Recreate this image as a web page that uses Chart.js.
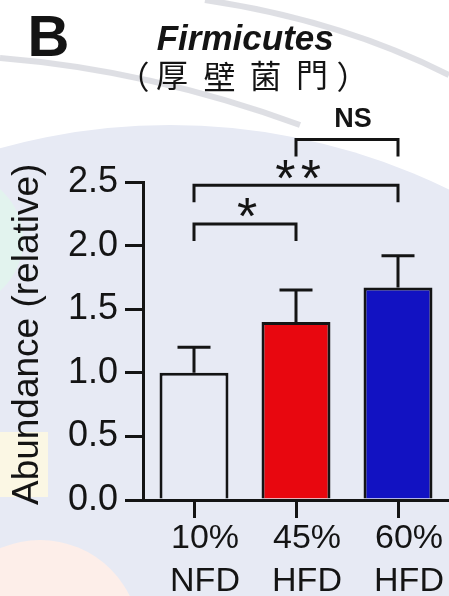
<!DOCTYPE html>
<html>
<head>
<meta charset="utf-8">
<script src="https://cdn.jsdelivr.net/npm/chart.js@4.4.1/dist/chart.umd.min.js"></script>
<style>
  html, body { margin: 0; padding: 0; background: #ffffff; }
  canvas { display: block; }
</style>
</head>
<body>
<canvas id="chart" width="449" height="596"></canvas>
<script>
// Diet groups and relative Firmicutes abundance (mean + SEM)
const groups = [['10%', 'NFD'], ['45%', 'HFD'], ['60%', 'HFD']];
const abundance = [1.00, 1.40, 1.67];
const sem = [0.20, 0.25, 0.25];
const barColors = ['#e7eaf4', '#e8070f', '#1212c2'];

// Pairwise comparisons: group indices, bracket level (axis units), significance mark
const comparisonPairs = [[0, 1], [0, 2], [1, 2]];
const comparisonLevels = [2.17, 2.475, 2.835];
const comparisonLabels = ['*', '**', 'NS'];

const panelLetter = 'B';
const titleLatin = 'Firmicutes';
const titleChinese = ['（', '厚', '壁', '菌', '門', '）'];
const yAxisTitle = 'Abundance (relative)';

const SANS = '"Liberation Sans", Arial, sans-serif';
const INK = '#141414';

// Draw text so that its glyph box is centred on (cx, cy)
function drawCentered(ctx, text, cx, cy, font) {
  ctx.font = font;
  ctx.textAlign = 'left';
  ctx.textBaseline = 'alphabetic';
  const m = ctx.measureText(text);
  const x = cx - (m.actualBoundingBoxRight - m.actualBoundingBoxLeft) / 2;
  const y = cy + (m.actualBoundingBoxAscent - m.actualBoundingBoxDescent) / 2;
  ctx.fillText(text, x, y);
}

const decorations = {
  id: 'decorations',
  beforeDraw(chart) {
    const ctx = chart.ctx;
    const W = chart.width, H = chart.height;
    ctx.save();
    ctx.fillStyle = '#ffffff';
    ctx.fillRect(0, 0, W, H);
    // soft lavender backdrop
    ctx.fillStyle = '#e7eaf4';
    ctx.beginPath();
    ctx.arc(170, 760, 635, 0, Math.PI * 2);
    ctx.fill();
    // pale tinted patches
    ctx.fillStyle = '#e2f3ee';
    ctx.beginPath();
    ctx.arc(-45, 240, 68, 0, Math.PI * 2);
    ctx.fill();
    ctx.fillStyle = '#fdeee9';
    ctx.beginPath();
    ctx.arc(40, 640, 100, 0, Math.PI * 2);
    ctx.fill();
    ctx.fillStyle = '#fbf7e4';
    ctx.fillRect(0, 432, 48, 65);
    // faint sweeping lines
    ctx.strokeStyle = 'rgba(195,197,205,0.55)';
    ctx.lineWidth = 6;
    ctx.beginPath();
    ctx.moveTo(0, 58);
    ctx.quadraticCurveTo(150, 70, 300, 125);
    ctx.stroke();
    ctx.beginPath();
    ctx.moveTo(205, 0);
    ctx.quadraticCurveTo(340, 20, 449, 75);
    ctx.stroke();
    ctx.restore();
  },
  afterDatasetsDraw(chart) {
    const ctx = chart.ctx;
    const xs = chart.scales.x, ys = chart.scales.y;
    ctx.save();
    ctx.strokeStyle = INK;
    ctx.lineWidth = 3;
    ctx.lineCap = 'butt';
    // upper error bars
    abundance.forEach((v, i) => {
      const x = xs.getPixelForValue(i);
      const yTop = ys.getPixelForValue(v);
      const yCap = ys.getPixelForValue(v + sem[i]);
      ctx.beginPath();
      ctx.moveTo(x, yTop);
      ctx.lineTo(x, yCap);
      ctx.moveTo(x - 16.5, yCap);
      ctx.lineTo(x + 16.5, yCap);
      ctx.stroke();
    });
    // significance brackets
    comparisonPairs.forEach(([a, b], k) => {
      const x1 = xs.getPixelForValue(a);
      const x2 = xs.getPixelForValue(b);
      const y0 = ys.getPixelForValue(comparisonLevels[k]);
      ctx.beginPath();
      ctx.moveTo(x1, y0 + 17);
      ctx.lineTo(x1, y0);
      ctx.lineTo(x2, y0);
      ctx.lineTo(x2, y0 + 17);
      ctx.stroke();
      ctx.fillStyle = INK;
      const mid = (x1 + x2) / 2;
      const label = comparisonLabels[k];
      if (label === 'NS') {
        drawCentered(ctx, label, mid + 6, y0 - 22, 'bold 27px ' + SANS);
      } else {
        const n = label.length;
        for (let j = 0; j < n; j++) {
          const cx = mid + 2 + (j - (n - 1) / 2) * 25.5;
          drawCentered(ctx, '*', cx, y0 - 16, '52px ' + SANS);
        }
      }
    });
    ctx.restore();
  },
  afterDraw(chart) {
    const ctx = chart.ctx;
    ctx.save();
    ctx.fillStyle = INK;
    drawCentered(ctx, panelLetter, 49, 36, 'bold 58px ' + SANS);
    drawCentered(ctx, titleLatin, 245, 36.5, 'italic bold 35px ' + SANS);
    const cjkX = [144, 172, 219, 266, 312, 342];
    titleChinese.forEach((ch, i) => {
      drawCentered(ctx, ch, cjkX[i], 76, '32px "Noto Sans CJK TC", "Noto Sans CJK SC", sans-serif');
    });
    ctx.translate(28.5, 335);
    ctx.rotate(-Math.PI / 2);
    drawCentered(ctx, yAxisTitle, 0, 0, '37px ' + SANS);
    ctx.restore();
  }
};

new Chart(document.getElementById('chart'), {
  type: 'bar',
  data: {
    labels: groups,
    datasets: [{
      data: abundance,
      backgroundColor: barColors,
      borderColor: INK,
      borderWidth: 3,
      borderSkipped: 'bottom',
      barPercentage: 0.676,
      categoryPercentage: 1.0
    }]
  },
  options: {
    responsive: false,
    animation: false,
    devicePixelRatio: 1,
    layout: { padding: { top: 182, right: 0, bottom: 0, left: 0 } },
    plugins: {
      legend: { display: false },
      tooltip: { enabled: false },
      title: { display: false }
    },
    scales: {
      x: {
        offset: true,
        grid: {
          offset: false,
          drawOnChartArea: false,
          drawTicks: true,
          tickLength: 18,
          color: INK,
          lineWidth: 3
        },
        border: { display: true, color: INK, width: 3 },
        ticks: {
          color: INK,
          font: { family: SANS, size: 34, lineHeight: 1.24 },
          padding: 0,
          labelOffset: 11,
          maxRotation: 0,
          autoSkip: false
        },
        afterFit(scale) { scale.height = 96; }
      },
      y: {
        min: 0,
        max: 2.5,
        grid: {
          drawOnChartArea: false,
          drawTicks: true,
          tickLength: 18,
          color: INK,
          lineWidth: 3
        },
        border: { display: true, color: INK, width: 3 },
        ticks: {
          stepSize: 0.5,
          color: INK,
          font: { family: SANS, size: 36 },
          padding: 7,
          callback: (v) => Number(v).toFixed(1)
        },
        afterFit(scale) { scale.width = 143; }
      }
    }
  },
  plugins: [decorations]
});
</script>
</body>
</html>
